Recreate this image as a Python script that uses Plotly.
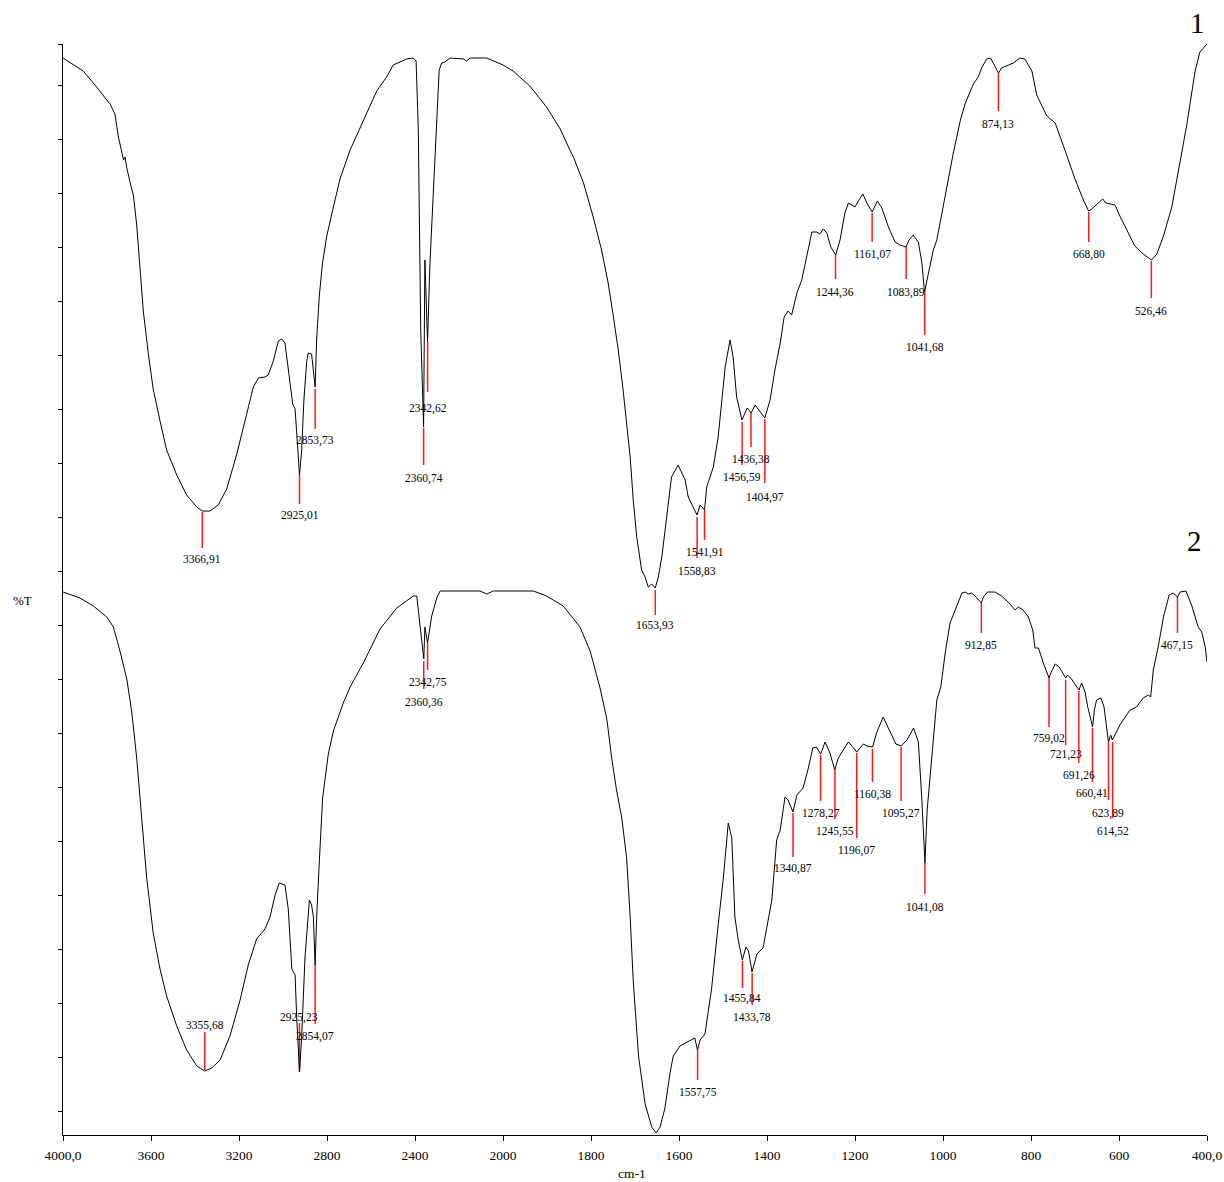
import numpy as np
import plotly.graph_objects as go

# ---------------- data ----------------
# Spectrum 1 (upper trace): wavenumber (cm-1) and %T (arbitrary scale)
wn1 = [4000, 3908, 3847, 3824, 3817, 3801, 3786, 3764, 3749, 3733,
       3725, 3718, 3710, 3688, 3680, 3665, 3650, 3635, 3612, 3590,
       3559, 3529, 3483, 3438, 3392, 3367, 3332, 3294, 3256, 3210,
       3165, 3135, 3112, 3082, 3067, 3044, 3021, 3006, 2991, 2976,
       2956, 2945, 2938, 2925, 2915, 2905, 2892, 2885, 2870, 2854,
       2847, 2835, 2821, 2801, 2771, 2741, 2695, 2635, 2574, 2529,
       2499, 2438, 2408, 2395, 2385, 2374, 2361, 2355, 2343, 2332,
       2309, 2290, 2279, 2264, 2241, 2180, 2165, 2150, 2074, 2029,
       2000, 1977, 1939, 1901, 1870, 1848, 1840, 1817, 1795, 1776,
       1761, 1749, 1738, 1727, 1719, 1711, 1704, 1696, 1685, 1677,
       1670, 1662, 1654, 1647, 1639, 1628, 1617, 1602, 1586, 1579,
       1567, 1559, 1552, 1542, 1537, 1522, 1511, 1503, 1495, 1484,
       1477, 1469, 1457, 1445, 1436, 1427, 1416, 1405, 1393, 1382,
       1370, 1361, 1352, 1344, 1332, 1321, 1310, 1298, 1287, 1280,
       1272, 1264, 1255, 1244, 1234, 1223, 1215, 1207, 1200, 1191,
       1182, 1173, 1161, 1149, 1139, 1124, 1109, 1098, 1084, 1077,
       1068, 1056, 1048, 1042, 1033, 1022, 1014, 999, 992, 977,
       961, 950, 931, 920, 912, 901, 892, 882, 874, 867,
       852, 840, 825, 814, 798, 787, 764, 745, 723, 700,
       681, 669, 662, 651, 637, 630, 620, 609, 598, 579,
       564, 545, 526, 514, 499, 480, 465, 446, 427, 416,
       400]
t1 = [107.7, 106.4, 104.8, 104.1, 103.9, 103.5, 103.1, 102.1, 99.9, 98.1,
      97.5, 97.8, 96.7, 94.6, 94.0, 91.0, 86.7, 82.4, 78.1, 74.6,
      71.4, 68.5, 66.0, 64.0, 62.8, 62.4, 62.4, 63.0, 64.6, 68.1,
      72.1, 74.8, 75.7, 75.8, 76.0, 77.4, 79.4, 79.6, 79.2, 76.4,
      73.1, 72.6, 69.9, 66.0, 68.5, 73.5, 77.4, 78.2, 78.1, 74.8,
      79.6, 83.9, 87.1, 89.9, 92.8, 95.6, 98.5, 101.4, 104.4, 105.8,
      107.0, 107.6, 107.7, 107.4, 100.5, 80.5, 70.8, 87.5, 79.3, 87.2,
      97.2, 106.5, 107.2, 107.3, 107.7, 107.6, 107.4, 107.7, 107.7, 107.3,
      107.0, 106.4, 104.9, 102.8, 100.6, 98.5, 97.8, 95.2, 91.8, 88.5,
      85.2, 81.8, 78.5, 74.5, 71.2, 67.8, 63.5, 59.8, 56.5, 55.8,
      54.8, 55.1, 54.7, 55.8, 57.8, 61.8, 65.8, 67.0, 65.5, 63.8,
      62.8, 62.0, 63.0, 62.5, 64.8, 66.8, 69.8, 73.2, 76.8, 79.5,
      77.8, 73.8, 71.5, 72.7, 72.2, 73.0, 72.3, 71.7, 73.5, 76.5,
      79.2, 81.8, 82.4, 82.0, 84.2, 85.5, 87.8, 90.3, 90.3, 90.1,
      90.6, 90.2, 88.8, 88.0, 89.5, 92.2, 93.2, 93.0, 92.8, 93.5,
      94.1, 93.2, 92.3, 93.4, 92.7, 90.8, 89.3, 89.0, 88.8, 89.5,
      90.0, 89.3, 87.2, 84.3, 86.2, 88.5, 89.5, 93.1, 94.5, 98.1,
      101.4, 103.1, 105.1, 105.8, 106.7, 107.6, 107.7, 106.9, 106.2, 106.7,
      107.0, 107.2, 107.7, 107.6, 106.4, 104.0, 101.9, 101.2, 98.5, 95.6,
      93.5, 92.4, 92.6, 93.0, 93.6, 93.2, 93.1, 93.0, 91.9, 90.3,
      88.9, 88.1, 87.5, 88.1, 89.9, 92.8, 96.4, 101.0, 106.4, 108.3,
      109.1]

# Spectrum 2 (lower trace)
wn2 = [4000, 3923, 3862, 3801, 3771, 3741, 3710, 3688, 3665, 3642,
       3620, 3590, 3559, 3529, 3483, 3438, 3392, 3356, 3324, 3286,
       3241, 3195, 3158, 3120, 3082, 3059, 3036, 3017, 2991, 2976,
       2960, 2945, 2938, 2925, 2915, 2900, 2880, 2870, 2862, 2854,
       2847, 2835, 2820, 2794, 2771, 2726, 2695, 2635, 2559, 2483,
       2408, 2392, 2377, 2360, 2355, 2343, 2324, 2301, 2286, 2256,
       2105, 2074, 2044, 2000, 1931, 1901, 1863, 1825, 1802, 1780,
       1764, 1753, 1742, 1730, 1719, 1711, 1704, 1692, 1677, 1662,
       1652, 1643, 1632, 1620, 1613, 1598, 1582, 1564, 1558, 1552,
       1541, 1526, 1511, 1499, 1488, 1480, 1473, 1465, 1456, 1448,
       1442, 1434, 1423, 1409, 1401, 1389, 1378, 1370, 1359, 1352,
       1341, 1332, 1318, 1306, 1296, 1288, 1278, 1268, 1257, 1246,
       1238, 1227, 1215, 1196, 1181, 1173, 1160, 1151, 1136, 1120,
       1107, 1095, 1082, 1067, 1056, 1048, 1041, 1036, 1026, 1014,
       1005, 995, 984, 969, 957, 950, 942, 935, 925, 913,
       908, 899, 882, 867, 852, 836, 829, 818, 806, 796,
       791, 783, 772, 759, 755, 745, 736, 721, 717, 708,
       691, 685, 677, 671, 660, 656, 651, 641, 634, 624,
       619, 615, 598, 575, 560, 545, 533, 528, 522, 511,
       499, 486, 477, 467, 461, 448, 435, 420, 412, 404,
       400]
t2 = [54.3, 53.7, 52.9, 51.8, 50.8, 48.4, 45.6, 42.4, 37.7, 31.7,
      25.8, 20.2, 16.6, 13.9, 10.9, 8.5, 6.9, 6.4, 6.7, 7.5,
      9.9, 13.5, 17.0, 19.6, 20.6, 21.8, 24.0, 25.2, 25.0, 22.6,
      16.6, 16.0, 11.9, 6.3, 9.9, 17.8, 23.5, 23.0, 21.8, 17.0,
      21.8, 27.3, 33.7, 38.1, 40.4, 43.2, 44.8, 47.2, 50.6, 52.7,
      53.9, 53.9, 51.2, 47.6, 50.8, 49.2, 51.9, 53.7, 54.4, 54.4,
      54.4, 54.1, 54.4, 54.4, 54.4, 53.9, 52.9, 50.8, 48.4, 44.8,
      41.6, 37.7, 34.5, 31.7, 27.7, 21.8, 15.4, 7.9, 3.1, 0.8,
      0.2, 0.8, 2.7, 6.3, 7.9, 8.9, 9.3, 9.7, 8.5, 9.5,
      10.1, 14.6, 21.0, 25.8, 31.2, 29.7, 21.8, 19.4, 17.5, 18.8,
      18.4, 16.3, 18.1, 18.7, 20.6, 23.5, 29.5, 30.5, 33.8, 33.5,
      32.3, 34.0, 34.7, 36.7, 38.7, 38.8, 38.1, 39.3, 38.2, 36.5,
      37.7, 38.5, 39.3, 38.3, 39.1, 38.9, 38.8, 40.2, 41.8, 40.3,
      39.1, 38.9, 39.5, 40.7, 39.3, 33.5, 27.2, 32.5, 37.5, 43.5,
      44.8, 48.2, 51.2, 52.8, 54.2, 54.3, 54.1, 54.2, 53.8, 53.2,
      53.8, 54.3, 54.3, 53.9, 53.3, 52.5, 52.8, 52.5, 51.8, 50.5,
      48.7, 48.7, 47.2, 45.7, 46.2, 47.1, 46.8, 45.7, 46.0, 45.6,
      44.5, 45.2, 44.3, 42.8, 40.8, 42.5, 43.5, 43.7, 42.8, 39.3,
      40.0, 39.5, 41.0, 42.5, 42.8, 43.7, 44.0, 43.8, 46.5, 48.8,
      51.8, 54.0, 54.2, 53.8, 54.3, 54.4, 53.0, 50.8, 50.3, 48.8,
      47.3]

# Peak positions (cm-1)
peaks1 = [3366.91, 2925.01, 2853.73, 2360.74, 2342.62, 1653.93, 1558.83, 1541.91,
          1456.59, 1436.38, 1404.97, 1244.36, 1161.07, 1083.89, 1041.68, 874.13,
          668.80, 526.46]
peaks2 = [3355.68, 2925.23, 2854.07, 2360.36, 2342.75, 1557.75, 1455.84, 1433.78,
          1340.87, 1278.27, 1245.55, 1196.07, 1160.38, 1095.27, 1041.08, 912.85,
          759.02, 721.23, 691.26, 660.41, 623.89, 614.52, 467.15]

# Axis ticks
xtick_wn = [4000, 3600, 3200, 2800, 2400, 2000, 1800, 1600, 1400, 1200, 1000, 800, 600, 400]
xtick_txt = ["4000,0", "3600", "3200", "2800", "2400", "2000", "1800", "1600",
             "1400", "1200", "1000", "800", "600", "400,0"]

# ---------------- peak-marker layout (line ends & label heights, %T units) ----------------
m1_top = [62.3, 66.0, 74.6, 70.7, 79.3, 54.5, 61.8, 62.5, 71.3, 72.2, 71.6, 88.0,
          92.2, 88.8, 84.5, 106.2, 92.3, 87.4]
m1_bot = [58.7, 63.1, 70.6, 67.0, 74.3, 52.0, 57.7, 59.5, 67.0, 68.8, 65.2, 85.6,
          89.3, 85.6, 80.0, 102.4, 89.3, 83.7]
m1_lab = [57.6, 62.0, 69.5, 65.7, 72.7, 51.0, 56.4, 58.3, 65.8, 67.6, 63.8, 84.3,
          88.1, 84.3, 78.8, 101.1, 88.1, 82.4]
m2_top = [6.5, 6.3, 17.0, 47.4, 49.2, 8.5, 17.4, 16.2, 32.2, 38.0, 36.5, 38.2,
          38.6, 38.8, 27.2, 53.2, 45.7, 45.5, 44.4, 40.7, 39.3, 39.3, 53.8]
m2_bot = [10.3, 11.2, 11.1, 44.6, 46.5, 5.5, 14.7, 13.0, 27.8, 33.4, 31.6, 29.7,
          35.3, 33.4, 24.1, 50.2, 40.8, 39.0, 37.2, 35.3, 33.5, 31.7, 50.2]
m2_lab = [11.0, 11.8, 9.9, 43.3, 45.3, 4.3, 13.65, 11.8, 26.7, 32.2, 30.4, 28.5,
          34.1, 32.2, 22.8, 49.0, 39.7, 38.1, 36.0, 34.2, 32.2, 30.4, 49.0]

SERIF = "Liberation Serif, Times New Roman, serif"


def to_axis(wn):
    """Split wavenumber scale: 4000-2000 compressed, 2000-400 expanded 2x."""
    wn = np.asarray(wn, dtype=float)
    return np.where(wn >= 2000, 4000 - wn, 2000 + 2 * (2000 - wn))


fig = go.Figure()


def marker_trace(peaks, y0, y1):
    xs, ys = [], []
    for p, a, b in zip(peaks, y0, y1):
        xa = float(to_axis(p))
        xs += [xa, xa, None]
        ys += [a, b, None]
    return go.Scatter(x=xs, y=ys, mode="lines", line=dict(color="#ff1a1a", width=1.5),
                      hoverinfo="skip", showlegend=False)


fig.add_trace(marker_trace(peaks1, m1_top, m1_bot))
fig.add_trace(marker_trace(peaks2, m2_top, m2_bot))

fig.add_trace(go.Scatter(x=to_axis(wn1), y=t1, mode="lines",
                         line=dict(color="black", width=1), showlegend=False))
fig.add_trace(go.Scatter(x=to_axis(wn2), y=t2, mode="lines",
                         line=dict(color="black", width=1), showlegend=False))

annotations = []
for peaks, labs in ((peaks1, m1_lab), (peaks2, m2_lab)):
    for p, ly in zip(peaks, labs):
        annotations.append(dict(
            x=float(to_axis(p)), y=ly, xref="x", yref="y",
            text=f"{p:.2f}".replace(".", ","), showarrow=False,
            xanchor="center", yanchor="middle",
            font=dict(family=SERIF, size=11.5, color="black")))

annotations += [
    dict(x=0.992, y=1.019, xref="paper", yref="paper", text="1", showarrow=False,
         xanchor="center", yanchor="middle", font=dict(family=SERIF, size=29, color="black")),
    dict(x=0.9895, y=0.5445, xref="paper", yref="paper", text="2", showarrow=False,
         xanchor="center", yanchor="middle", font=dict(family=SERIF, size=29, color="black")),
    dict(x=-0.0358, y=0.490, xref="paper", yref="paper", text="%T", showarrow=False,
         xanchor="center", yanchor="middle", font=dict(family=SERIF, size=13, color="black")),
    dict(x=0.497, y=-0.0355, xref="paper", yref="paper", text="cm-1", showarrow=False,
         xanchor="center", yanchor="middle", font=dict(family=SERIF, size=13.5, color="black")),
]

ytick_vals = [2.4 + 5.395 * k for k in range(20)] + [109.1]

fig.update_layout(
    width=1224, height=1182,
    margin=dict(l=63, r=17, t=44, b=47, autoexpand=False),
    paper_bgcolor="white", plot_bgcolor="white",
    showlegend=False,
    annotations=annotations,
    xaxis=dict(range=[0, 5200], tickmode="array",
               tickvals=list(to_axis(xtick_wn)), ticktext=xtick_txt,
               showline=True, linecolor="black", linewidth=1,
               ticks="outside", ticklen=5, tickwidth=1, tickcolor="black",
               ticklabelstandoff=3, automargin=False, ticklabeloverflow="allow",
               showgrid=False, zeroline=False,
               tickfont=dict(family=SERIF, size=13.5, color="black")),
    yaxis=dict(range=[0, 109.1], tickmode="array", tickvals=ytick_vals,
               showticklabels=False, showline=True, linecolor="black", linewidth=1,
               ticks="outside", ticklen=4, tickwidth=1, tickcolor="black",
               automargin=False,
               showgrid=False, zeroline=False),
)

fig.write_html("out.html")
